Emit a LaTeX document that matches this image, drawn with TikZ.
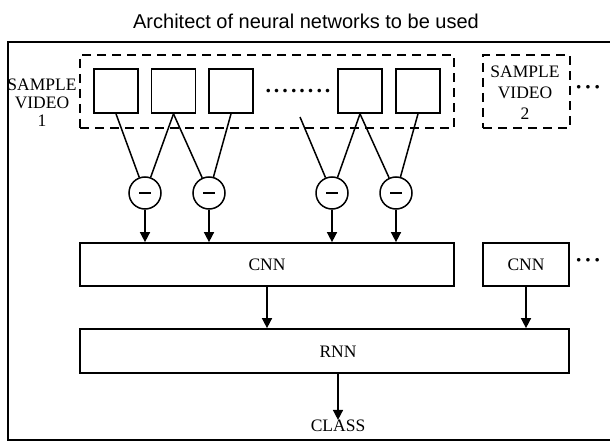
\documentclass[tikz,border=0pt]{standalone}
\usepackage{fontspec}
\setmainfont{Liberation Serif}
\newfontfamily\titlefont{Liberation Sans}
\usetikzlibrary{arrows.meta}
\newcommand\dotrow{\fontsize{22}{22}\selectfont\bfseries .\kern3pt.\kern3pt.\kern3pt.\kern3pt.\kern3pt.\kern3pt.\kern3pt.}
\newcommand\middots{\fontsize{22}{22}\selectfont\bfseries\textperiodcentered\kern2pt\textperiodcentered\kern2pt\textperiodcentered}
\begin{document}
\begin{tikzpicture}[x=1pt,y=-1pt,
  frame/.style={line width=1.8pt},
  box/.style={draw,line width=1.7pt,inner sep=0pt},
  dbox/.style={draw,line width=1.6pt,dash pattern=on 9pt off 6pt},
  lbl/.style={font=\fontsize{17.5}{18}\selectfont,align=center,inner sep=0pt},
  link/.style={line width=1.5pt},
  arr/.style={line width=1.5pt,-{Triangle[length=10pt,width=10pt]}},
  minus/.style={draw,circle,line width=1.5pt,minimum size=32pt,inner sep=0pt}
]
\useasboundingbox (0,0) rectangle (610,441);
\fill[white] (0,0) rectangle (610,441);
\node[font=\titlefont\fontsize{20}{20}\selectfont,inner sep=0pt] (title) at (306,21) {Architect of neural networks to be used};
\draw[frame] (8,42) rectangle (616,440);
% dashed groups
\node[dbox,minimum width=374pt,minimum height=73pt] (v1) at (267,91.5) {};
\node[dbox,minimum width=87pt,minimum height=73pt] (v2) at (526.5,91.5) {};
\node[lbl] (lab1) at (42,103) {SAMPLE\\VIDEO\\1};
\node[lbl,font=\fontsize{17.5}{21}\selectfont] (lab2) at (525,93) {SAMPLE\\VIDEO\\2};
\node[lbl] (more1) at (588,90) {\middots};
% frames
\node[box,minimum size=44pt] (s1) at (116,91) {};
\node[box,minimum size=44pt] (s2) at (173.5,91) {};
\node[box,minimum size=44pt] (s3) at (231,91) {};
\node[box,minimum size=44pt] (s4) at (360,91) {};
\node[box,minimum size=44pt] (s5) at (418,91) {};
\node[lbl] (dots) at (298,91) {\dotrow};
\coordinate (f3) at (300,117);
% difference circles
\node[minus] (c1) at (145,193) {};
\node[minus] (c2) at (209,193) {};
\node[minus] (c3) at (332,193) {};
\node[minus] (c4) at (396,193) {};
\foreach \c in {c1,c2,c3,c4}
  \draw[link] ([xshift=-6pt]\c.center) -- ([xshift=6pt]\c.center);
\draw[link] (s1.south) -- (c1);
\draw[link] (s2.south) -- (c1);
\draw[link] (s2.south) -- (c2);
\draw[link] (s3.south) -- (c2);
\draw[link] (f3) -- (c3);
\draw[link] (s4.south) -- (c3);
\draw[link] (s4.south) -- (c4);
\draw[link] (s5.south) -- (c4);
% networks
\node[box,minimum width=374pt,minimum height=43pt,lbl] (cnn1) at (267,264.5) {CNN};
\node[box,minimum width=86pt,minimum height=43pt,lbl] (cnn2) at (526,264.5) {CNN};
\node[lbl] (more2) at (588,263) {\middots};
\node[box,minimum width=489pt,minimum height=44pt] (rnn) at (324.5,351) {};
\node[lbl] (rnnt) at (338,352) {RNN};
\node[lbl] (class) at (338,426) {CLASS};
\foreach \c in {c1,c2,c3,c4}
  \draw[arr] (\c.south) -- (\c.south |- cnn1.north);
\draw[arr] (cnn1.south) -- (cnn1.south |- rnn.north);
\draw[arr] (cnn2.south) -- (cnn2.south |- rnn.north);
\draw[arr] (rnn.south -| class.north) -- (class.north);
\end{tikzpicture}
\end{document}
